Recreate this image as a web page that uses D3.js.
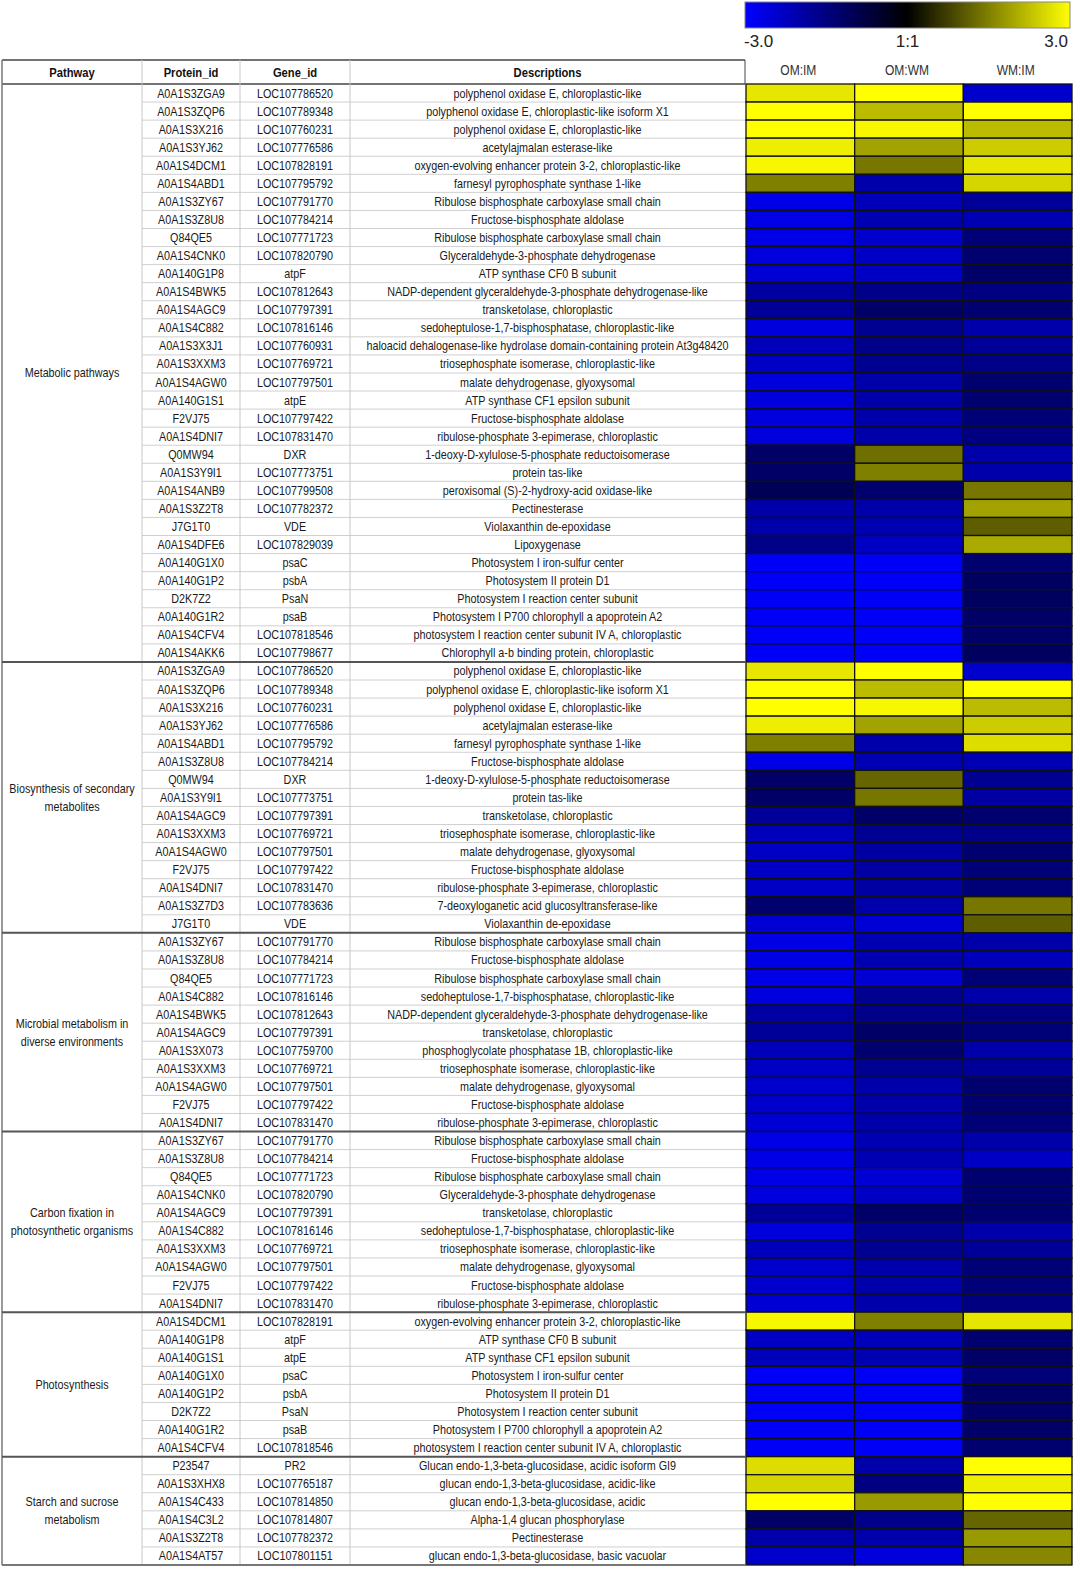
<!DOCTYPE html>
<html><head><meta charset="utf-8">
<script src="https://cdn.jsdelivr.net/npm/d3@7"></script>
<style>
html,body{margin:0;padding:0;background:#fff;width:1080px;height:1580px;overflow:hidden;}
svg{display:block;}
</style></head>
<body>
<svg id="chart" width="1080" height="1580"></svg>
<script>
// ---------- DATA ----------
const groups = [
  {name: ["Metabolic pathways"], count: 32},
  {name: ["Biosynthesis of secondary", "metabolites"], count: 15},
  {name: ["Microbial metabolism in", "diverse environments"], count: 11},
  {name: ["Carbon fixation in", "photosynthetic organisms"], count: 10},
  {name: ["Photosynthesis"], count: 8},
  {name: ["Starch and sucrose", "metabolism"], count: 6}
];
const columns = ["OM:IM", "OM:WM", "WM:IM"];
const headers = ["Pathway", "Protein_id", "Gene_id", "Descriptions"];
const legendTicks = [-3, 0, 3];
const legendLabels = ["-3.0", "1:1", "3.0"];

const proteinIds = [
  "A0A1S3ZGA9","A0A1S3ZQP6","A0A1S3X216","A0A1S3YJ62","A0A1S4DCM1","A0A1S4ABD1","A0A1S3ZY67","A0A1S3Z8U8","Q84QE5","A0A1S4CNK0","A0A140G1P8","A0A1S4BWK5","A0A1S4AGC9","A0A1S4C882","A0A1S3X3J1","A0A1S3XXM3","A0A1S4AGW0","A0A140G1S1","F2VJ75","A0A1S4DNI7","Q0MW94","A0A1S3Y9I1","A0A1S4ANB9","A0A1S3Z2T8","J7G1T0","A0A1S4DFE6","A0A140G1X0","A0A140G1P2","D2K7Z2","A0A140G1R2","A0A1S4CFV4","A0A1S4AKK6",
  "A0A1S3ZGA9","A0A1S3ZQP6","A0A1S3X216","A0A1S3YJ62","A0A1S4ABD1","A0A1S3Z8U8","Q0MW94","A0A1S3Y9I1","A0A1S4AGC9","A0A1S3XXM3","A0A1S4AGW0","F2VJ75","A0A1S4DNI7","A0A1S3Z7D3","J7G1T0",
  "A0A1S3ZY67","A0A1S3Z8U8","Q84QE5","A0A1S4C882","A0A1S4BWK5","A0A1S4AGC9","A0A1S3X073","A0A1S3XXM3","A0A1S4AGW0","F2VJ75","A0A1S4DNI7",
  "A0A1S3ZY67","A0A1S3Z8U8","Q84QE5","A0A1S4CNK0","A0A1S4AGC9","A0A1S4C882","A0A1S3XXM3","A0A1S4AGW0","F2VJ75","A0A1S4DNI7",
  "A0A1S4DCM1","A0A140G1P8","A0A140G1S1","A0A140G1X0","A0A140G1P2","D2K7Z2","A0A140G1R2","A0A1S4CFV4",
  "P23547","A0A1S3XHX8","A0A1S4C433","A0A1S4C3L2","A0A1S3Z2T8","A0A1S4AT57"
];
const geneIds = [
  "LOC107786520","LOC107789348","LOC107760231","LOC107776586","LOC107828191","LOC107795792","LOC107791770","LOC107784214","LOC107771723","LOC107820790","atpF","LOC107812643","LOC107797391","LOC107816146","LOC107760931","LOC107769721","LOC107797501","atpE","LOC107797422","LOC107831470","DXR","LOC107773751","LOC107799508","LOC107782372","VDE","LOC107829039","psaC","psbA","PsaN","psaB","LOC107818546","LOC107798677",
  "LOC107786520","LOC107789348","LOC107760231","LOC107776586","LOC107795792","LOC107784214","DXR","LOC107773751","LOC107797391","LOC107769721","LOC107797501","LOC107797422","LOC107831470","LOC107783636","VDE",
  "LOC107791770","LOC107784214","LOC107771723","LOC107816146","LOC107812643","LOC107797391","LOC107759700","LOC107769721","LOC107797501","LOC107797422","LOC107831470",
  "LOC107791770","LOC107784214","LOC107771723","LOC107820790","LOC107797391","LOC107816146","LOC107769721","LOC107797501","LOC107797422","LOC107831470",
  "LOC107828191","atpF","atpE","psaC","psbA","PsaN","psaB","LOC107818546",
  "PR2","LOC107765187","LOC107814850","LOC107814807","LOC107782372","LOC107801151"
];
const descriptions = [
  "polyphenol oxidase E, chloroplastic-like","polyphenol oxidase E, chloroplastic-like isoform X1","polyphenol oxidase E, chloroplastic-like","acetylajmalan esterase-like","oxygen-evolving enhancer protein 3-2, chloroplastic-like","farnesyl pyrophosphate synthase 1-like","Ribulose bisphosphate carboxylase small chain","Fructose-bisphosphate aldolase","Ribulose bisphosphate carboxylase small chain","Glyceraldehyde-3-phosphate dehydrogenase","ATP synthase CF0 B subunit","NADP-dependent glyceraldehyde-3-phosphate dehydrogenase-like","transketolase, chloroplastic","sedoheptulose-1,7-bisphosphatase, chloroplastic-like","haloacid dehalogenase-like hydrolase domain-containing protein At3g48420","triosephosphate isomerase, chloroplastic-like","malate dehydrogenase, glyoxysomal","ATP synthase CF1 epsilon subunit","Fructose-bisphosphate aldolase","ribulose-phosphate 3-epimerase, chloroplastic","1-deoxy-D-xylulose-5-phosphate reductoisomerase","protein tas-like","peroxisomal (S)-2-hydroxy-acid oxidase-like","Pectinesterase","Violaxanthin de-epoxidase","Lipoxygenase","Photosystem I iron-sulfur center","Photosystem II protein D1","Photosystem I reaction center subunit","Photosystem I P700 chlorophyll a apoprotein A2","photosystem I reaction center subunit IV A, chloroplastic","Chlorophyll a-b binding protein, chloroplastic",
  "polyphenol oxidase E, chloroplastic-like","polyphenol oxidase E, chloroplastic-like isoform X1","polyphenol oxidase E, chloroplastic-like","acetylajmalan esterase-like","farnesyl pyrophosphate synthase 1-like","Fructose-bisphosphate aldolase","1-deoxy-D-xylulose-5-phosphate reductoisomerase","protein tas-like","transketolase, chloroplastic","triosephosphate isomerase, chloroplastic-like","malate dehydrogenase, glyoxysomal","Fructose-bisphosphate aldolase","ribulose-phosphate 3-epimerase, chloroplastic","7-deoxyloganetic acid glucosyltransferase-like","Violaxanthin de-epoxidase",
  "Ribulose bisphosphate carboxylase small chain","Fructose-bisphosphate aldolase","Ribulose bisphosphate carboxylase small chain","sedoheptulose-1,7-bisphosphatase, chloroplastic-like","NADP-dependent glyceraldehyde-3-phosphate dehydrogenase-like","transketolase, chloroplastic","phosphoglycolate phosphatase 1B, chloroplastic-like","triosephosphate isomerase, chloroplastic-like","malate dehydrogenase, glyoxysomal","Fructose-bisphosphate aldolase","ribulose-phosphate 3-epimerase, chloroplastic",
  "Ribulose bisphosphate carboxylase small chain","Fructose-bisphosphate aldolase","Ribulose bisphosphate carboxylase small chain","Glyceraldehyde-3-phosphate dehydrogenase","transketolase, chloroplastic","sedoheptulose-1,7-bisphosphatase, chloroplastic-like","triosephosphate isomerase, chloroplastic-like","malate dehydrogenase, glyoxysomal","Fructose-bisphosphate aldolase","ribulose-phosphate 3-epimerase, chloroplastic",
  "oxygen-evolving enhancer protein 3-2, chloroplastic-like","ATP synthase CF0 B subunit","ATP synthase CF1 epsilon subunit","Photosystem I iron-sulfur center","Photosystem II protein D1","Photosystem I reaction center subunit","Photosystem I P700 chlorophyll a apoprotein A2","photosystem I reaction center subunit IV A, chloroplastic",
  "Glucan endo-1,3-beta-glucosidase, acidic isoform GI9","glucan endo-1,3-beta-glucosidase, acidic-like","glucan endo-1,3-beta-glucosidase, acidic","Alpha-1,4 glucan phosphorylase","Pectinesterase","glucan endo-1,3-beta-glucosidase, basic vacuolar"
];
const omIm = [
  2.7,3.0,3.0,2.8,2.9,1.5,-2.7,-2.7,-2.7,-2.6,-2.5,-1.9,-1.8,-2.6,-2.2,-2.3,-2.6,-2.6,-2.6,-2.6,-1.2,-1.2,-1.0,-2.0,-2.0,-1.6,-2.9,-2.9,-2.9,-2.9,-2.9,-2.9,
  2.7,3.0,3.0,2.8,1.5,-2.7,-1.2,-1.2,-1.8,-2.2,-2.3,-2.3,-2.3,-1.3,-2.5,
  -2.7,-2.7,-2.7,-2.6,-1.9,-1.8,-2.2,-2.3,-2.4,-2.4,-2.5,
  -2.7,-2.7,-2.7,-2.6,-1.8,-2.6,-2.2,-2.4,-2.4,-2.5,
  2.9,-2.3,-2.2,-2.9,-2.9,-2.9,-2.9,-2.9,
  2.6,2.5,3.0,-1.2,-2.0,-2.4
];
const omWm = [
  3.0,2.2,2.9,1.9,1.4,-2.0,-2.2,-2.1,-2.4,-2.3,-2.3,-1.6,-1.2,-1.7,-1.6,-1.7,-2.0,-2.0,-2.0,-2.0,1.3,1.5,-1.3,-2.0,-2.1,-2.3,-2.9,-2.9,-2.9,-2.9,-2.9,-2.9,
  3.0,2.2,2.9,1.9,-2.0,-2.1,1.2,1.4,-1.2,-1.7,-1.9,-1.9,-1.9,-2.0,-2.5,
  -2.1,-2.1,-2.5,-1.7,-1.6,-1.2,-1.3,-1.7,-2.0,-2.0,-2.0,
  -2.1,-2.1,-2.5,-2.3,-1.2,-1.7,-1.7,-2.0,-2.0,-2.0,
  1.5,-2.2,-2.1,-2.9,-2.9,-2.9,-2.9,-2.9,
  -2.0,-1.5,1.8,-1.6,-2.0,-2.6
];
const wmIm = [
  -2.4,3.0,2.2,2.4,2.7,2.5,-1.8,-2.1,-1.4,-1.3,-1.2,-1.5,-1.3,-2.0,-1.8,-1.6,-1.3,-1.3,-1.4,-1.5,-2.0,-2.0,1.4,1.9,1.1,2.0,-1.3,-1.1,-1.1,-1.2,-1.2,-1.1,
  -2.4,3.0,2.2,2.4,2.6,-2.1,-1.7,-1.9,-1.3,-1.6,-1.3,-1.4,-1.4,1.4,1.1,
  -2.0,-2.2,-1.4,-2.0,-1.5,-1.4,-2.0,-1.8,-1.3,-1.3,-1.4,
  -2.0,-2.3,-1.3,-1.3,-1.3,-2.0,-1.8,-1.4,-1.4,-1.5,
  2.7,-1.3,-1.2,-1.4,-1.2,-1.2,-1.2,-1.3,
  3.0,2.8,3.0,1.2,1.8,1.6
];
const values = [omIm, omWm, wmIm];

// ---------- LAYOUT ----------
const svg = d3.select("#chart");
const nRows = proteinIds.length;
const tableTop = 84, tableBottom = 1565, headerTop = 60;
const font = "'Liberation Sans',Arial,Helvetica,sans-serif";
const narrow = 0.83; // horizontal compression to mimic a narrow face

const y = d3.scaleBand().domain(d3.range(nRows)).range([tableTop, tableBottom]).paddingInner(0);
const colEdges = [2, 142, 240, 350, 745];
const heatX = d3.scaleBand().domain(columns).range([746, 1072]);
const color = d3.scaleLinear().domain([-3, 0, 3]).range(["#0000ff", "#000000", "#ffff00"]).clamp(true);

function narrowText(sel, x, yy) {
  return sel.attr("transform", (d, i) => `translate(${typeof x === "function" ? x(d, i) : x},${typeof yy === "function" ? yy(d, i) : yy}) scale(${narrow},1)`);
}

// ---------- COLOR BAR ----------
const legendX = d3.scaleLinear().domain([-3, 3]).range([745, 1070]);
const defs = svg.append("defs");
const grad = defs.append("linearGradient").attr("id", "lg").attr("x1", "0%").attr("x2", "100%");
d3.range(-3, 3.01, 0.5).forEach(v => {
  grad.append("stop").attr("offset", ((v + 3) / 6 * 100) + "%").attr("stop-color", color(v));
});
svg.append("rect").attr("x", legendX(-3)).attr("y", 2).attr("width", legendX(3) - legendX(-3)).attr("height", 26)
  .attr("fill", "url(#lg)").attr("stroke", "#888").attr("stroke-width", 1);
svg.append("g").selectAll("text").data(legendTicks).join("text")
  .attr("x", d => legendX(d) + (d === -3 ? -1 : d === 3 ? -2 : 0))
  .attr("y", 47)
  .attr("text-anchor", d => d === -3 ? "start" : d === 3 ? "end" : "middle")
  .attr("font-family", font).attr("font-size", 17).attr("fill", "#222")
  .text((d, i) => legendLabels[i]);

// ---------- TABLE HEADER ----------
const hdr = svg.append("g");
hdr.append("line").attr("x1", 2).attr("x2", 745).attr("y1", headerTop).attr("y2", headerTop).attr("stroke", "#444").attr("stroke-width", 1.5);
hdr.append("line").attr("x1", 2).attr("x2", 745).attr("y1", tableTop).attr("y2", tableTop).attr("stroke", "#444").attr("stroke-width", 1.5);
hdr.append("line").attr("x1", 745).attr("x2", 745).attr("y1", headerTop).attr("y2", tableTop).attr("stroke", "#444").attr("stroke-width", 1);
narrowText(hdr.selectAll("text.h").data(headers).join("text"),
    (d, i) => (colEdges[i] + colEdges[i + 1]) / 2, 77)
  .attr("text-anchor", "middle")
  .attr("font-family", font).attr("font-weight", "bold").attr("font-size", 13.5).attr("fill", "#111")
  .text(d => d);
narrowText(hdr.selectAll("text.c").data(columns).join("text"),
    d => heatX(d) + heatX.bandwidth() / 2 - 2, 75)
  .attr("text-anchor", "middle")
  .attr("font-family", font).attr("font-size", 14.5).attr("fill", "#333")
  .text(d => d);

// ---------- ROW GRID ----------
const grid = svg.append("g");
grid.selectAll("line.r").data(d3.range(1, nRows)).join("line")
  .attr("x1", 142).attr("x2", 746)
  .attr("y1", d => y(d)).attr("y2", d => y(d))
  .attr("stroke", "#d0d0d0").attr("stroke-width", 1);
grid.selectAll("line.v").data(colEdges.slice(1, 4)).join("line")
  .attr("x1", d => d).attr("x2", d => d)
  .attr("y1", headerTop).attr("y2", tableBottom)
  .attr("stroke", "#c8c8c8").attr("stroke-width", 1);
grid.append("line").attr("x1", 2).attr("x2", 2).attr("y1", headerTop).attr("y2", tableBottom).attr("stroke", "#777").attr("stroke-width", 1.5);

// ---------- TEXT CELLS ----------
const cellText = svg.append("g").attr("font-family", font).attr("font-size", 13).attr("fill", "#1a1a1a").attr("text-anchor", "middle");
const rowData = d3.range(nRows).map(i => ({i, p: proteinIds[i], g: geneIds[i], d: descriptions[i]}));
const rowY = d => y(d.i) + y.bandwidth() / 2 + 4.5;
narrowText(cellText.selectAll("text.p").data(rowData).join("text"), (colEdges[1] + colEdges[2]) / 2, rowY).text(d => d.p);
narrowText(cellText.selectAll("text.g").data(rowData).join("text"), (colEdges[2] + colEdges[3]) / 2, rowY).text(d => d.g);
narrowText(cellText.selectAll("text.d").data(rowData).join("text"), (colEdges[3] + colEdges[4]) / 2, rowY).text(d => d.d);

// ---------- HEATMAP ----------
const cells = [];
columns.forEach((c, ci) => values[ci].forEach((v, i) => cells.push({c, i, v})));
svg.append("g").selectAll("rect").data(cells).join("rect")
  .attr("x", d => heatX(d.c)).attr("y", d => y(d.i))
  .attr("width", heatX.bandwidth()).attr("height", y.bandwidth())
  .attr("fill", d => color(d.v))
  .attr("stroke", "#111").attr("stroke-width", 1.3);

// ---------- GROUPS ----------
let start = 0;
const gLayer = svg.append("g");
groups.forEach((g, gi) => {
  const top = y(start), bottom = y(start + g.count - 1) + y.bandwidth();
  const mid = (top + bottom) / 2;
  const lh = 18;
  g.name.forEach((line, li) => {
    gLayer.append("text")
      .attr("transform", `translate(72,${mid + 4.5 + (li - (g.name.length - 1) / 2) * lh}) scale(${narrow},1)`)
      .attr("text-anchor", "middle").attr("font-family", font).attr("font-size", 13).attr("fill", "#1a1a1a")
      .text(line);
  });
  if (gi < groups.length - 1) {
    gLayer.append("line").attr("x1", 2).attr("x2", 746).attr("y1", bottom).attr("y2", bottom)
      .attr("stroke", "#555").attr("stroke-width", 2);
  }
  start += g.count;
});
gLayer.append("line").attr("x1", 2).attr("x2", 746).attr("y1", tableBottom).attr("y2", tableBottom).attr("stroke", "#777").attr("stroke-width", 2);
</script>
</body></html>
